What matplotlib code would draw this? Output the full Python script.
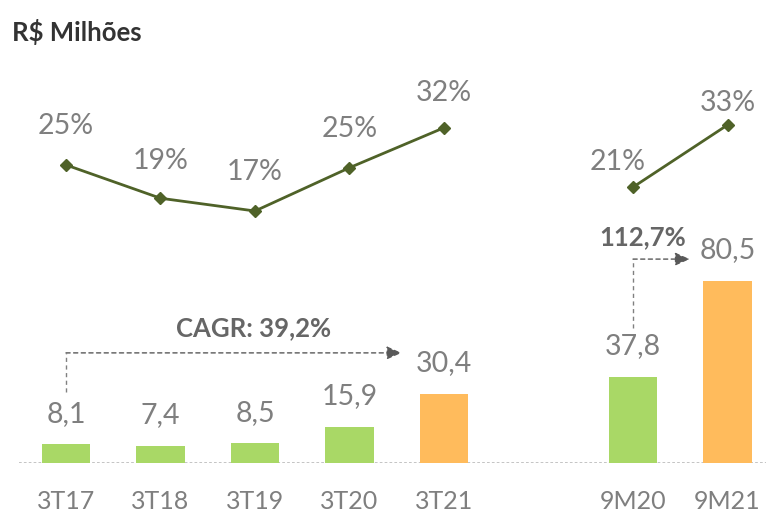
import matplotlib
matplotlib.use("Agg")
import matplotlib.pyplot as plt

plt.rcParams['font.family'] = ['Lato', 'DejaVu Sans']

categories = ["3T17", "3T18", "3T19", "3T20", "3T21", "9M20", "9M21"]
positions = [0, 1, 2, 3, 4, 6, 7]
revenue = [8.1, 7.4, 8.5, 15.9, 30.4, 37.8, 80.5]
revenue_labels = ["8,1", "7,4", "8,5", "15,9", "30,4", "37,8", "80,5"]
margin_quarter = [25.3, 19.3, 17.0, 24.8, 32.0]
margin_9m = [21.3, 32.5]
margin_labels = ["25%", "19%", "17%", "25%", "32%", "21%", "33%"]
bar_colors = ["#A9D866", "#A9D866", "#A9D866", "#A9D866", "#FFBB5C", "#A9D866", "#FFBB5C"]

W, H = 766, 514
fig = plt.figure(figsize=(W / 100, H / 100), dpi=100)
ax = fig.add_axes([19 / W, 1 - 462.5 / H, 1 - 19 / W, (462.5 - 60) / H])
ax.set_xlim(-0.497, 7.407)
ax.set_ylim(0, 402.5 / 2.26)

gray = "#7F7F7F"
ax.bar(positions, revenue, width=0.51, color=bar_colors, zorder=2)
ax.axhline(0, color="#BFBFBF", lw=1.3, ls=(0, (1.5, 1.2)), zorder=1)

for x, v, lab in zip(positions, revenue, revenue_labels):
    ax.annotate(lab, (x, v), xytext=(0, 22), textcoords="offset points",
                ha="center", va="center", fontsize=20.5, color=gray)

ax.set_xticks(positions)
ax.set_xticklabels(categories, fontsize=18, color=gray)
ax.tick_params(axis="x", length=0, pad=19.5)
ax.set_yticks([])
for s in ax.spines.values():
    s.set_visible(False)

ax2 = ax.twinx()
ax2.set_ylim(-28.3, 44.2)
ax2.set_yticks([])
for s in ax2.spines.values():
    s.set_visible(False)
line_color = "#4F6228"
ax2.plot(positions[:5], margin_quarter, color=line_color, lw=2, marker="D", ms=6.5, zorder=3)
ax2.plot(positions[5:], margin_9m, color=line_color, lw=2, marker="D", ms=6.5, zorder=3)
margins = margin_quarter + margin_9m
offsets = [(0, 28), (0, 27), (0, 28), (0, 28), (0, 25), (-11, 18), (0, 16)]
for x, m, lab, off in zip(positions, margins, margin_labels, offsets):
    ax2.annotate(lab, (x, m), xytext=off, textcoords="offset points",
                 ha="center", va="center", fontsize=20.5, color=gray)

# CAGR arrow
arrow_gray = "#595959"
dash_kw = dict(color="#808080", lw=1, ls=(0, (3, 2.5)))
y0, y1 = 31.2, 48.5
ax.plot([positions[0], positions[0]], [y0, y1], **dash_kw)
ax.annotate("", xy=(3.55, y1), xytext=(positions[0], y1),
            arrowprops=dict(arrowstyle="-|>,head_length=0.9,head_width=0.4",
                            color=arrow_gray, lw=1, ls=(0, (3, 2.5)), shrinkA=0, shrinkB=0))
ax.text(1.98, 59.5, "CAGR: 39,2%", ha="center", va="center", fontsize=18.5,
        fontweight="bold", color="#666666")

# 112,7% arrow
z0, z1 = 59.6, 90.0
ax.plot([positions[5], positions[5]], [z0, z1], **dash_kw)
ax.annotate("", xy=(6.6, z1), xytext=(positions[5], z1),
            arrowprops=dict(arrowstyle="-|>,head_length=0.9,head_width=0.4",
                            color=arrow_gray, lw=1, ls=(0, (3, 2.5)), shrinkA=0, shrinkB=0))
ax.text(6.1, 99.5, "112,7%", ha="center", va="center", fontsize=18.5,
        fontweight="bold", color="#666666")

fig.text(12 / W, 1 - 32 / H, "R$ Milhões", ha="left", va="center", fontsize=18.5,
         fontweight="bold", color="#333333")

fig.savefig("out.png", dpi=100)
